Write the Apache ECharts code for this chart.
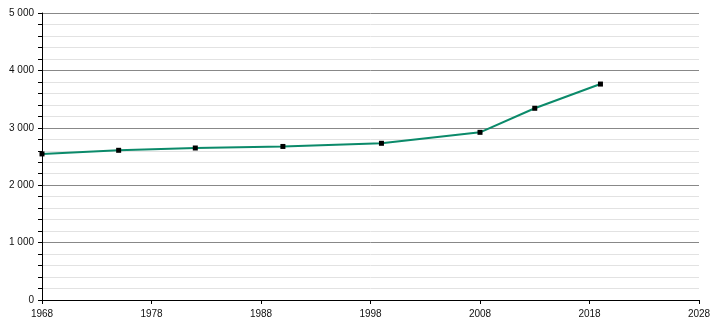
<!DOCTYPE html>
<html><head><meta charset="utf-8">
<script src="https://cdn.jsdelivr.net/npm/echarts@6/dist/echarts.min.js"></script>
<style>html,body{margin:0;padding:0;background:#fff}#c{width:710px;height:320px}</style>
</head><body><div id="c"></div>
<script>
const years = [1968, 1975, 1982, 1990, 1999, 2008, 2013, 2019];
const values = [2545, 2608, 2648, 2675, 2730, 2921, 3340, 3762];
const xStart = 1968, xEnd = 2028, xStep = 10;
const yMin = 0, yMax = 5000, yStep = 1000;

const fmt = v => String(v).replace(/\B(?=(\d{3})+(?!\d))/g, '\u00a0');
const chart = echarts.init(document.getElementById('c'), null, {renderer:'canvas'});
chart.setOption({
  animation:false,
  textStyle:{fontFamily:'Liberation Sans, Arial, sans-serif'},
  grid:{left:42,right:11,top:13,bottom:20,containLabel:false,outerBoundsMode:'none'},
  xAxis:{type:'value',min:0,max:xEnd-xStart,interval:xStep,
    axisLine:{show:true,onZero:false,lineStyle:{color:'#000',width:1}},
    axisTick:{show:true,length:4,lineStyle:{color:'#000'}},
    axisLabel:{color:'#111',fontSize:10,margin:9,formatter:v=>String(v+xStart)},
    splitLine:{show:false}},
  yAxis:{type:'value',min:yMin,max:yMax,interval:yStep,
    axisLine:{show:true,lineStyle:{color:'#000',width:1}},
    axisTick:{show:true,length:4,lineStyle:{color:'#000'}},
    minorTick:{show:true,splitNumber:5,length:4,lineStyle:{color:'#000'}},
    axisLabel:{color:'#111',fontSize:10,margin:8,formatter:v=>fmt(v)},
    splitLine:{show:true,lineStyle:{color:'#888',width:1}},
    minorSplitLine:{show:true,lineStyle:{color:'#e2e2e2',width:1}}},
  series:[{type:'line',data:years.map((y,i)=>[y-xStart,values[i]]),
    lineStyle:{color:'#0b8a6a',width:2},
    itemStyle:{color:'#000'},
    symbol:'rect',symbolSize:5,showSymbol:true,z:5}]
});
</script></body></html>
